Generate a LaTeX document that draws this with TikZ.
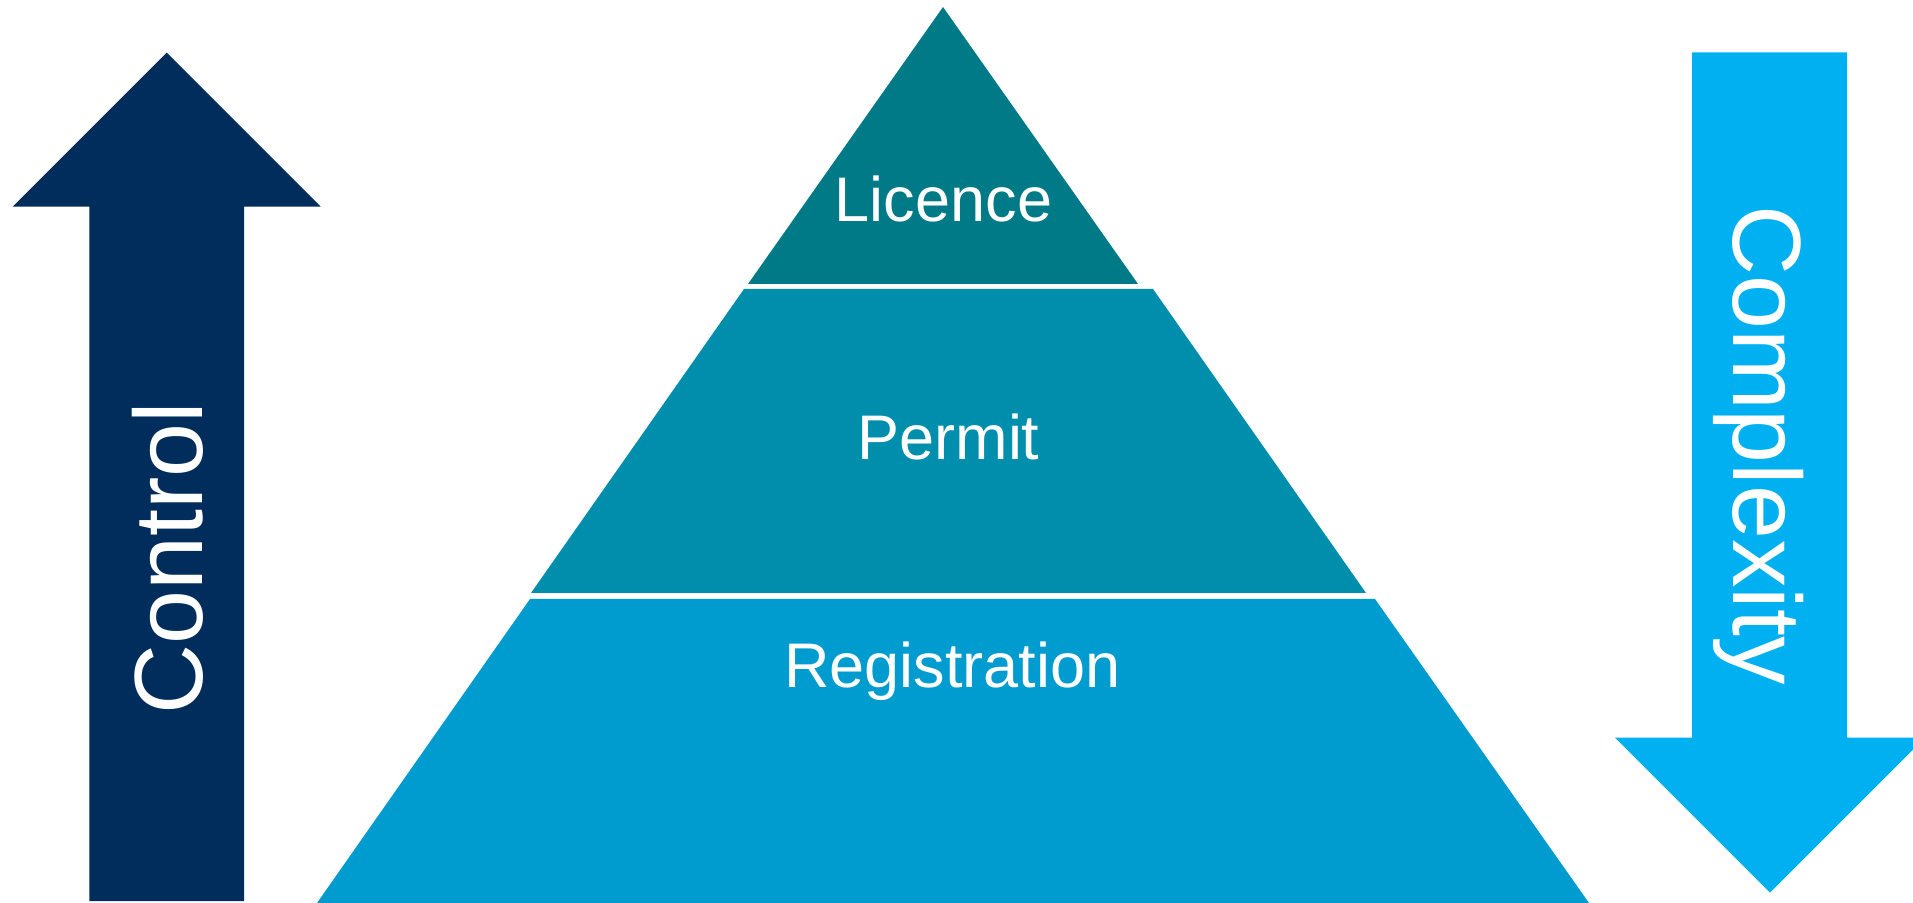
\documentclass[tikz,border=0pt]{standalone}
\usepackage{fontspec}
\setmainfont{Liberation Sans}
\usepackage{tikz}
\definecolor{azulescuro}{RGB}{0,45,92}
\definecolor{azulclaro}{RGB}{0,176,240}
\definecolor{nivelum}{RGB}{0,122,135}
\definecolor{niveldois}{RGB}{0,142,173}
\definecolor{niveltres}{RGB}{0,155,207}

\begin{document}
\begin{tikzpicture}[x=0.5pt,y=-0.5pt,
    nivel/.style={text=white,inner sep=0pt,anchor=base,font=\fontsize{31.5}{36}\selectfont},
    seta/.style={text=white,inner sep=0pt,anchor=base,font=\fontsize{48.5}{56}\selectfont}]
    % Moldura
    \useasboundingbox (0,0) rectangle (1913,903);
    \clip (0,0) rectangle (1913,903);
    % Seta de controle
    \fill[azulescuro] (166.7,52.7) -- (320.7,206.7) -- (244,206.7) -- (244,901)
        -- (89.3,901) -- (89.3,206.7) -- (12.7,206.7) -- cycle;
    \node[seta,rotate=90] (control) at (202,558) {Control};
    % Seta de complexidade
    \fill[azulclaro] (1692,52.3) -- (1847,52.3) -- (1847,737.7) -- (1925,737.7)
        -- (1770,892.7) -- (1615,737.7) -- (1692,737.7) -- cycle;
    \node[seta,rotate=-90] (complexity) at (1733.6,445) {Complexity};
    % Piramide
    \fill[nivelum] (943,7) -- (1138,284) -- (748,284) -- cycle;
    \node[nivel] (licence) at (943.5,222) {Licence};
    \fill[niveldois] (744,289) -- (1153,289) -- (1366,593) -- (531,593) -- cycle;
    \node[nivel] (permit) at (948.5,460) {Permit};
    \fill[niveltres] (530,599) -- (1375,599) -- (1589,903) -- (317,903) -- cycle;
    \node[nivel] (registration) at (952.5,687) {Registration};
\end{tikzpicture}
\end{document}
